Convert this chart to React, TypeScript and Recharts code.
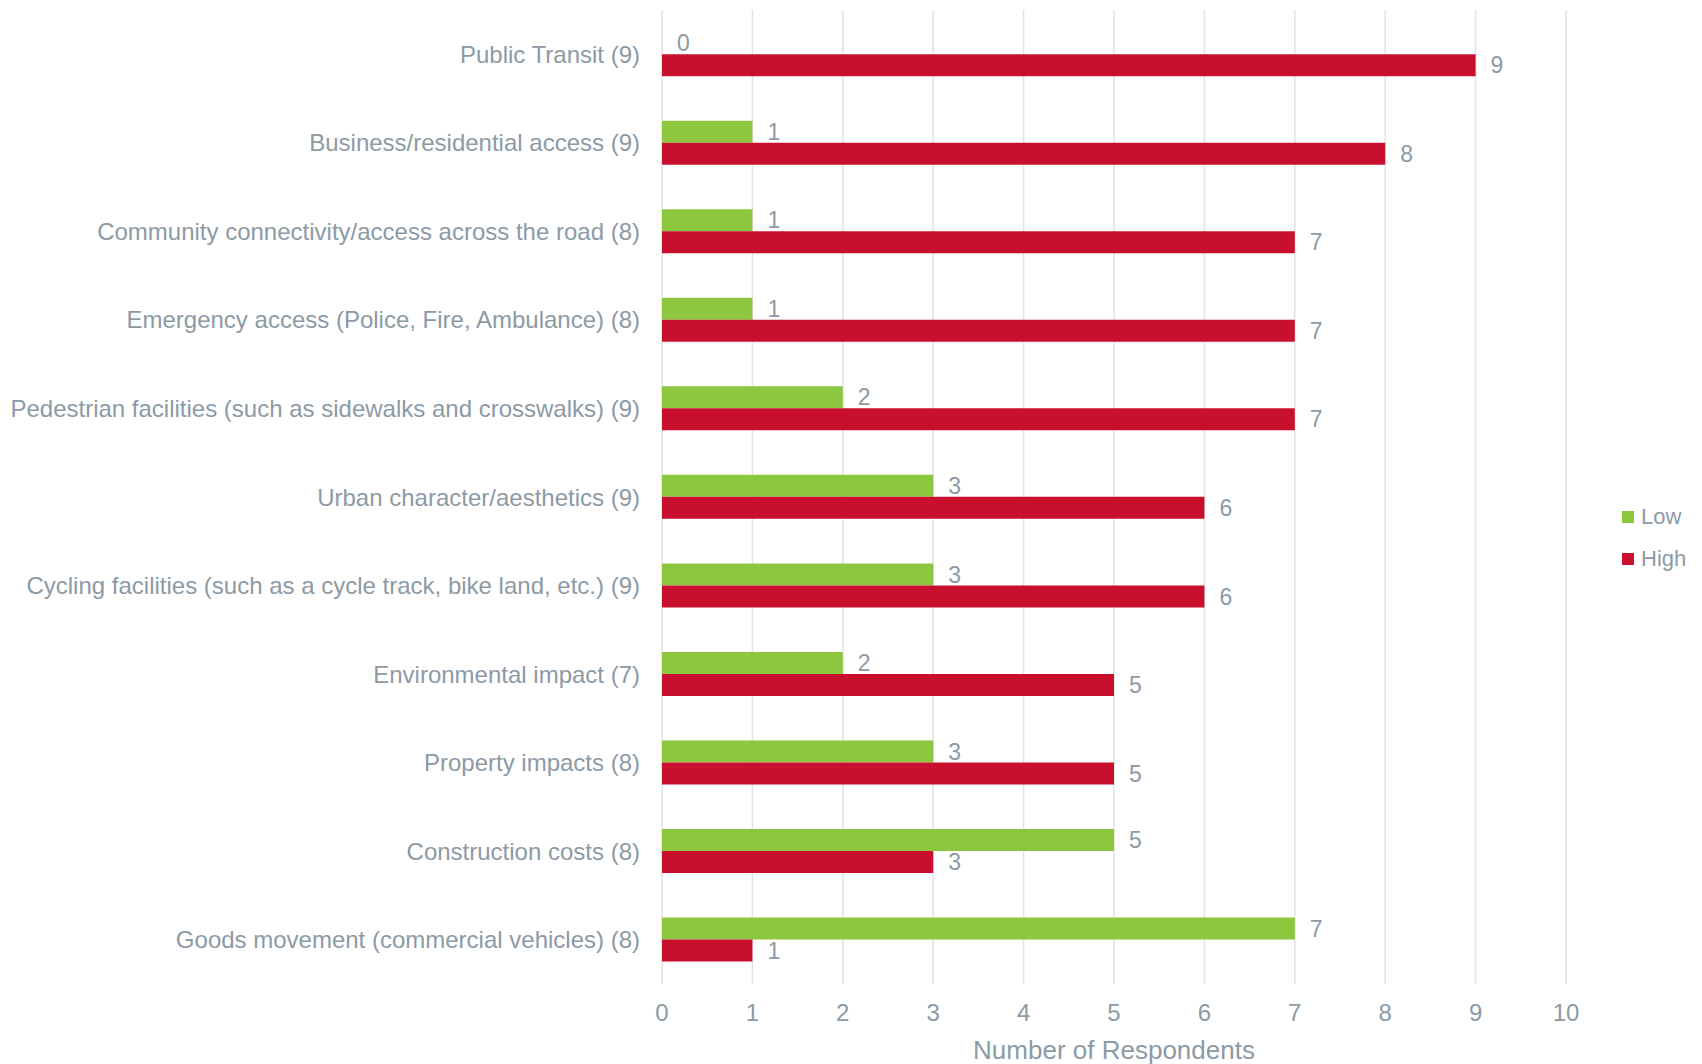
import { BarChart, Bar, XAxis, YAxis, CartesianGrid, Legend, LabelList } from 'recharts';

const categories = [
    'Public Transit (9)',
    'Business/residential access (9)',
    'Community connectivity/access across the road (8)',
    'Emergency access (Police, Fire, Ambulance) (8)',
    'Pedestrian facilities (such as sidewalks and crosswalks) (9)',
    'Urban character/aesthetics (9)',
    'Cycling facilities (such as a cycle track, bike land, etc.) (9)',
    'Environmental impact (7)',
    'Property impacts (8)',
    'Construction costs (8)',
    'Goods movement (commercial vehicles) (8)',
];

const lowValues = [0, 1, 1, 1, 2, 3, 3, 2, 3, 5, 7];
const highValues = [9, 8, 7, 7, 7, 6, 6, 5, 5, 3, 1];

const seriesNames = ['Low', 'High'];
const xTicks = [0, 1, 2, 3, 4, 5, 6, 7, 8, 9, 10];

const TEXT = '#8c9aa6';
const GREEN = '#8dc63f';
const RED = '#c8102e';
const FONT = '"Liberation Sans", Arial, sans-serif';

function LegendContent({ payload }: { payload?: any[] }) {
    // keep Low above High, like the series order
    const items = [...(payload || [])].sort((a, b) => seriesNames.indexOf(a.value) - seriesNames.indexOf(b.value));
    return (
        <div style={{ fontFamily: FONT }}>
            {items.map((entry) => (
                <div key={entry.value} style={{ display: 'flex', alignItems: 'center', height: 42 }}>
                    <span style={{ width: 12, height: 12, background: entry.color, display: 'inline-block', marginRight: 7 }} />
                    <span style={{ color: TEXT, fontSize: 22 }}>{entry.value}</span>
                </div>
            ))}
        </div>
    );
}

export default function App() {
    const data = categories.map((name, i) => ({
        name,
        Low: lowValues[i],
        High: highValues[i],
    }));

    const fmt = (v: any) => String(v);

    return (
        <div style={{ position: 'absolute', left: 0, top: 0, background: '#fff', fontFamily: FONT }}>
            <BarChart
                width={1702}
                height={1064}
                data={data}
                layout="vertical"
                margin={{ top: 10, right: 56, left: 0, bottom: 0 }}
                barCategoryGap="25%"
                barGap={0}
            >
                <CartesianGrid horizontal={false} stroke="#e2e2e2" strokeWidth={1.5} />
                <XAxis
                    type="number"
                    domain={[0, 10]}
                    ticks={xTicks}
                    height={80}
                    axisLine={false}
                    tickLine={false}
                    tickSize={0}
                    tickMargin={20}
                    tick={{ fill: TEXT, fontSize: 24, fontFamily: FONT }}
                    label={{ value: 'Number of Respondents', position: 'insideBottom', offset: 5, fill: TEXT, fontSize: 26, fontFamily: FONT }}
                />
                <YAxis
                    type="category"
                    dataKey="name"
                    width={662}
                    axisLine={false}
                    tickLine={false}
                    tickSize={0}
                    tickMargin={22}
                    interval={0}
                    tick={{ fill: TEXT, fontSize: 24, fontFamily: FONT }}
                />
                <Legend
                    layout="vertical"
                    align="right"
                    verticalAlign="middle"
                    width={80}
                    content={<LegendContent />}
                    wrapperStyle={{ left: 1622, top: 496 }}
                />
                {/* tiny minPointSize so the zero bar still gets its "0" label */}
                <Bar dataKey="Low" fill={GREEN} minPointSize={0.01} isAnimationActive={false}>
                    <LabelList dataKey="Low" position="right" offset={15} formatter={fmt} fill={TEXT} fontSize={23} fontFamily={FONT} />
                </Bar>
                <Bar dataKey="High" fill={RED} minPointSize={0.01} isAnimationActive={false}>
                    <LabelList dataKey="High" position="right" offset={15} formatter={fmt} fill={TEXT} fontSize={23} fontFamily={FONT} />
                </Bar>
            </BarChart>
        </div>
    );
}
